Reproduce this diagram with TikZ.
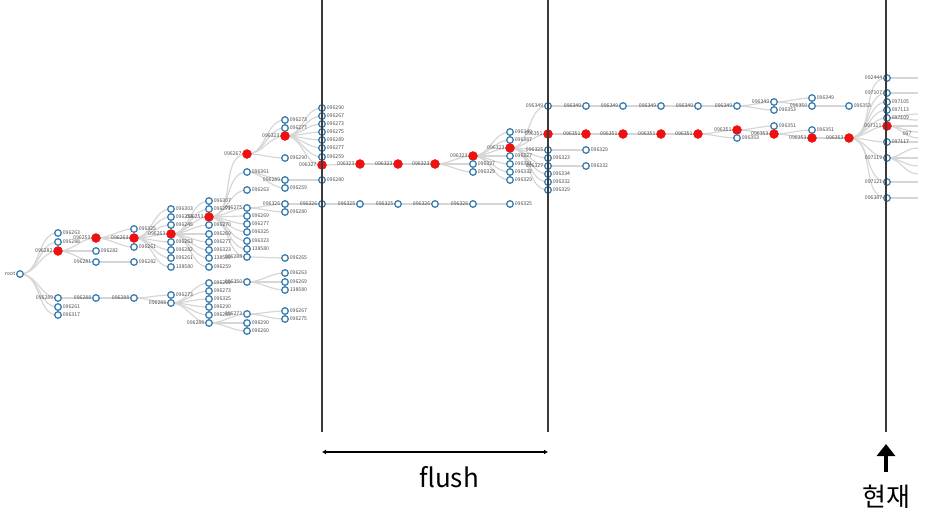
\documentclass[tikz,border=0pt]{standalone}
\usepackage{fontspec}
\setmainfont{Noto Sans CJK KR}
\usetikzlibrary{arrows.meta,backgrounds}
\definecolor{nodeBlue}{HTML}{3C7FB1}
\definecolor{hitRed}{HTML}{EE1111}
\definecolor{linkGray}{HTML}{D6D6D6}
\definecolor{tagGray}{HTML}{4A4A4A}
\definecolor{cutGray}{HTML}{3A3A3A}

\begin{document}
\begin{tikzpicture}[
  x=1pt,
  y=-1pt,
  tag/.style={
    font=\fontsize{5.2}{6}\selectfont,
    text=tagGray,
    inner sep=0.6pt,
  },
  L/.style={label={[tag]left:#1}},
  R/.style={label={[tag]right:#1}},
  bnode/.style={
    circle,
    draw=nodeBlue,
    fill=white,
    line width=1.3pt,
    inner sep=0pt,
    minimum size=6.6pt,
  },
  rnode/.style={
    circle,
    draw=hitRed,
    fill=hitRed,
    inner sep=0pt,
    minimum size=9pt,
  },
  link/.style={
    draw=linkGray,
    line width=1.2pt,
  },
  cut line/.style={
    draw=cutGray,
    line width=1.5pt,
  },
]
\clip (0,0) rectangle (938,512);
\node[bnode,L=root] (root) at (20,274) {};
% tree: name/parent/x/y/kind/side/label
\foreach \n/\p/\x/\y/\k/\s/\t in {
  l1a/root/58/233/bnode/R/096263, l1b/root/58/242/bnode/R/096288,
  l1c/root/58/251/rnode/L/096282, l1d/root/58/298/bnode/L/096289,
  l1e/root/58/307/bnode/R/096261, l1f/root/58/315/bnode/R/096317,
  l2a/l1c/96/238/rnode/L/096253, l2b/l1c/96/251/bnode/R/096282,
  l2c/l1c/96/262/bnode/L/096281, l2d/l1d/96/298/bnode/L/096288,
  l3a/l2a/134/229/bnode/R/096325, l3b/l2a/134/238/rnode/L/096263,
  l3c/l2a/134/247/bnode/R/096261, l3d/l2c/134/262/bnode/R/096282,
  l3e/l2d/134/298/bnode/L/096288,
  l4a/l3b/171/209/bnode/R/096303, l4b/l3b/171/217/bnode/R/096253,
  l4c/l3b/171/225/bnode/R/096245, l4d/l3b/171/234/rnode/L/096263,
  l4e/l3b/171/242/bnode/R/096263, l4f/l3b/171/250/bnode/R/096282,
  l4g/l3b/171/258/bnode/R/096261, l4h/l3b/171/267/bnode/R/138580,
  l4i/l3e/171/295/bnode/R/096273, l4j/l3e/171/303/bnode/L/096288,
  l5a/l4d/209/201/bnode/R/096307, l5b/l4d/209/209/bnode/R/096271,
  l5c/l4d/209/217/rnode/L/096253, l5d/l4d/209/225/bnode/R/096270,
  l5e/l4d/209/234/bnode/R/096269, l5f/l4d/209/242/bnode/R/096277,
  l5g/l4d/209/250/bnode/R/096323, l5h/l4d/209/258/bnode/R/138580,
  l5i/l4d/209/267/bnode/R/096259,
  l5j/l4j/209/283/bnode/R/096269, l5k/l4j/209/291/bnode/R/096273,
  l5l/l4j/209/299/bnode/R/096325, l5m/l4j/209/307/bnode/R/096290,
  l5n/l4j/209/315/bnode/R/096289, l5o/l4j/209/323/bnode/L/096288,
  l6a/l5c/247/154/rnode/L/096267, l6b/l5c/247/172/bnode/R/096361,
  l6c/l5c/247/190/bnode/R/096263, l6d/l5c/247/208/bnode/L/096275,
  l6e/l5c/247/216/bnode/R/096269, l6f/l5c/247/224/bnode/R/096277,
  l6g/l5c/247/232/bnode/R/096325, l6h/l5c/247/241/bnode/R/096323,
  l6i/l5c/247/249/bnode/R/138580, l6j/l5c/247/257/bnode/L/096288,
  l6k/l5j/247/282/bnode/L/096350,
  l6l/l5o/247/314/bnode/L/096273, l6m/l5o/247/323/bnode/R/096290,
  l6n/l5o/247/331/bnode/R/096260,
  l7a/l6a/285/120/bnode/R/096273, l7b/l6a/285/128/bnode/R/096277,
  l7c/l6a/285/136/rnode/L/096323, l7d/l6a/285/158/bnode/R/096290,
  l7e/l6b/285/180/bnode/L/096289, l7f/l6b/285/188/bnode/R/096259,
  l7g/l6d/285/204/bnode/L/096326, l7h/l6d/285/212/bnode/R/096280,
  l7i/l6j/285/258/bnode/R/096265,
  l7j/l6k/285/273/bnode/R/096263, l7k/l6k/285/282/bnode/R/096269,
  l7l/l6k/285/290/bnode/R/138580,
  l7m/l6l/285/311/bnode/R/096267, l7n/l6l/285/319/bnode/R/096275,
  l8a/l7c/322/108/bnode/R/096290, l8b/l7c/322/116/bnode/R/096267,
  l8c/l7c/322/124/bnode/R/096273, l8d/l7c/322/132/bnode/R/096275,
  l8e/l7c/322/140/bnode/R/096289, l8f/l7c/322/148/bnode/R/096277,
  l8g/l7c/322/157/bnode/R/096259, l8h/l7c/322/165/rnode/L/096327,
  l8i/l7e/322/180/bnode/R/096280, l8j/l7g/322/204/bnode/L/096326,
  l9a/l8h/360/164/rnode/L/096323, l9b/l8j/360/204/bnode/L/096325,
  l10a/l9a/398/164/rnode/L/096323, l10b/l9b/398/204/bnode/L/096325,
  l11a/l10a/435/164/rnode/L/096323, l11b/l10b/435/204/bnode/L/096326,
  l12a/l11a/473/156/rnode/L/096323, l12b/l11a/473/164/bnode/R/096327,
  l12c/l11a/473/172/bnode/R/096329, l12d/l11b/473/204/bnode/L/096326,
  l13a/l12a/510/132/bnode/R/096349, l13b/l12a/510/140/bnode/R/096387,
  l13c/l12a/510/148/rnode/L/096323, l13d/l12a/510/156/bnode/R/096327,
  l13e/l12a/510/164/bnode/R/096331, l13f/l12a/510/172/bnode/R/096332,
  l13g/l12a/510/180/bnode/R/096329, l13h/l12d/510/204/bnode/R/096325,
  l14a/l13c/548/106/bnode/L/096349, l14b/l13c/548/134/rnode/L/096351,
  l14c/l13c/548/150/bnode/L/096325, l14d/l13c/548/158/bnode/R/096323,
  l14e/l13c/548/166/bnode/L/096327, l14f/l13c/548/174/bnode/R/096334,
  l14g/l13c/548/182/bnode/R/096332, l14h/l13c/548/190/bnode/R/096329,
  l15a/l14a/586/106/bnode/L/096349, l15b/l14b/586/134/rnode/L/096351,
  l15c/l14c/586/150/bnode/R/096329, l15d/l14e/586/166/bnode/R/096332,
  l16a/l15a/623/106/bnode/L/096349, l16b/l15b/623/134/rnode/L/096351,
  l17a/l16a/661/106/bnode/L/096349, l17b/l16b/661/134/rnode/L/096351,
  l18a/l17a/698/106/bnode/L/096349, l18b/l17b/698/134/rnode/L/096351,
  l19a/l18a/737/106/bnode/L/096349, l19b/l18b/737/130/rnode/L/096351,
  l19c/l18b/737/138/bnode/R/096353,
  l20a/l19a/774/102/bnode/L/096349, l20b/l19a/774/110/bnode/R/096353,
  l20c/l19b/774/126/bnode/R/096351, l20d/l19b/774/134/rnode/L/096353,
  l21a/l20a/812/98/bnode/R/096349, l21b/l20a/812/106/bnode/L/096350,
  l21c/l20d/812/130/bnode/R/096351, l21d/l20d/812/138/rnode/L/096353,
  l22a/l21b/849/106/bnode/R/096353, l22b/l21d/849/138/rnode/L/096353,
  l23a/l22b/887/78/bnode/L/092444, l23b/l22b/887/93/bnode/L/097107,
  l23c/l22b/887/102/bnode/R/097105, l23d/l22b/887/110/bnode/R/097113,
  l23e/l22b/887/118/bnode/R/097109, l23f/l22b/887/126/rnode/L/097111,
  l23g/l22b/887/142/bnode/R/097117, l23h/l22b/887/158/bnode/L/097119,
  l23i/l22b/887/182/bnode/L/097121, l23j/l22b/887/198/bnode/L/096387%
}{
  \node[\k,\s=\t] (\n) at (\x,\y) {};
  \begin{pgfonlayer}{background}
    \draw[link] (\p.center) to[out=0,in=180] (\n.center);
  \end{pgfonlayer}
}
% links running off to the right
\foreach \n/\y [count=\i] in {
  l23a/78, l23b/93, l23e/114, l23e/120, l23f/126, l23f/132, l23f/138,
  l23g/142, l23h/148, l23h/158, l23h/166, l23h/174, l23i/182, l23j/198%
}{
  \coordinate (out\i) at (918,\y);
  \begin{pgfonlayer}{background}
    \draw[link] (\n.center) to[out=0,in=180] (out\i);
  \end{pgfonlayer}
}
\node[tag,anchor=west] (cutoff) at (902,134) {097};
% cut lines
\draw[cut line] (322,0) -- (322,432);
\draw[cut line] (548,0) -- (548,432);
\draw[cut line] (886,0) -- (886,432);
% flush span
\coordinate (flushL) at (322,452);
\coordinate (flushR) at (548,452);
\draw[line width=1.6pt,{Latex[length=4pt,width=5pt]}-{Latex[length=4pt,width=5pt]}] (flushL) -- (flushR);
\node[font=\fontsize{26}{30}\selectfont,anchor=base] (flush) at (449,487) {flush};
% now marker
\coordinate (nowTip) at (886,444);
\coordinate (nowTail) at (886,472);
\draw[line width=3.5pt,-{Triangle[length=12pt,width=18pt]}] (nowTail) -- (nowTip);
\node[font=\fontsize{26}{30}\selectfont,anchor=base] (now) at (886,506) {현재};
\end{tikzpicture}
\end{document}
